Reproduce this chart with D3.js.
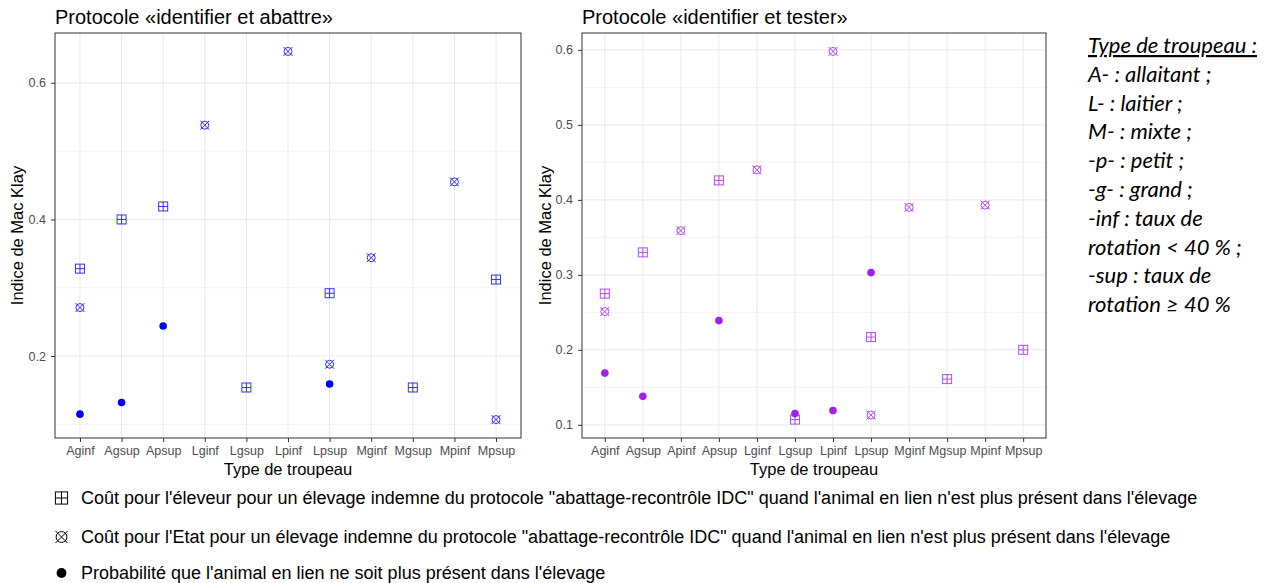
<!DOCTYPE html>
<html>
<head>
<meta charset="utf-8">
<script src="https://cdn.jsdelivr.net/npm/d3@7"></script>
<style>
	body { margin: 0; background: #fff; }
	text { font-family: "Liberation Sans", Arial, sans-serif; }
	.grid line { stroke: #ebebeb; }
</style>
</head>
<body>
<svg id="chart" width="1279" height="583"></svg>
<script>
// categories of each panel (the left one has no Apinf)
var cats_abattre = ["Aginf","Agsup","Apsup","Lginf","Lgsup","Lpinf","Lpsup","Mginf","Mgsup","Mpinf","Mpsup"];
var cats_tester = ["Aginf","Agsup","Apinf","Apsup","Lginf","Lgsup","Lpinf","Lpsup","Mginf","Mgsup","Mpinf","Mpsup"];

// "identifier et abattre"
var eleveur_abattre = [0.328, 0.400, 0.419, null, 0.154, null, 0.292, null, 0.154, null, 0.312];
var etat_abattre    = [0.271, null, null, 0.538, null, 0.646, 0.188, 0.344, null, 0.455, 0.107];
var proba_abattre   = [0.115, 0.132, 0.244, null, null, null, 0.159, null, null, null, null];

// "identifier et tester"
var eleveur_tester = [0.275, 0.330, null, 0.426, null, 0.107, null, 0.217, null, 0.161, null, 0.200];
var etat_tester    = [0.251, null, 0.359, null, 0.440, null, 0.598, 0.113, 0.390, null, 0.393, null];
var proba_tester   = [0.169, 0.138, null, 0.239, null, 0.115, 0.119, 0.303, null, null, null, null];

var ticks_abattre = [0.2, 0.4, 0.6];
var minor_abattre = [0.1, 0.3, 0.5];
var ticks_tester = [0.1, 0.2, 0.3, 0.4, 0.5, 0.6];
var minor_tester = [0.15, 0.25, 0.35, 0.45, 0.55];

var legend_labels = [
	"Coût pour l'éleveur pour un élevage indemne du protocole \"abattage-recontrôle IDC\" quand l'animal en lien n'est plus présent dans l'élevage",
	"Coût pour l'Etat pour un élevage indemne du protocole \"abattage-recontrôle IDC\" quand l'animal en lien n'est plus présent dans l'élevage",
	"Probabilité que l'animal en lien ne soit plus présent dans l'élevage"
];
var note_lines = ["Type de troupeau :","A- : allaitant ;","L- : laitier ;","M- : mixte ;","-p- : petit ;",
	"-g- : grand ;","-inf : taux de","rotation < 40 % ;","-sup : taux de","rotation ≥ 40 %"];

var svg = d3.select("#chart");

// marker shapes (ggplot shapes 12, 13, 16), k = size factor
function square_plus(g, color, k){
	k = k || 1;
	var h = 4.5 * k;
	g.append("rect").attr("x",-h).attr("y",-h).attr("width",2 * h).attr("height",2 * h)
		.attr("fill","none").attr("stroke",color);
	g.append("path").attr("d","M" + (-h) + ",0H" + h + "M0," + (-h) + "V" + h).attr("stroke",color);
}
function circle_cross(g, color, k){
	k = k || 1;
	var h = 4.5 * k;
	g.append("circle").attr("r",4 * k).attr("fill","none").attr("stroke",color);
	g.append("path").attr("d","M" + (-h) + "," + (-h) + "L" + h + "," + h + "M" + (-h) + "," + h + "L" + h + "," + (-h))
		.attr("stroke",color);
}
function dot(g, color, k){
	k = k || 1;
	g.append("circle").attr("r",3.8 * k).attr("fill",color);
}

function draw_panel(opts){
	var x = d3.scalePoint().domain(opts.cats).range([opts.left, opts.right]).padding(0.6);
	var all = opts.series.flatMap(function(s){ return s.values; }).filter(function(v){ return v != null; });
	var lo = d3.min(all), hi = d3.max(all), pad = (hi - lo) * 0.05;
	var y = d3.scaleLinear().domain([lo - pad, hi + pad]).range([opts.bottom, opts.top]);

	var grid = svg.append("g").attr("class","grid");
	grid.selectAll(".minor").data(opts.minor).enter().append("line")
		.attr("x1",opts.left).attr("x2",opts.right)
		.attr("y1",function(d){ return y(d); }).attr("y2",function(d){ return y(d); })
		.attr("stroke-width",0.6);
	grid.selectAll(".major").data(opts.ticks).enter().append("line")
		.attr("x1",opts.left).attr("x2",opts.right)
		.attr("y1",function(d){ return y(d); }).attr("y2",function(d){ return y(d); })
		.attr("stroke-width",1.1);
	grid.selectAll(".vx").data(opts.cats).enter().append("line")
		.attr("y1",opts.top).attr("y2",opts.bottom)
		.attr("x1",function(d){ return x(d); }).attr("x2",function(d){ return x(d); })
		.attr("stroke-width",1.1);

	opts.series.forEach(function(s){
		opts.cats.forEach(function(c, i){
			var v = s.values[i];
			if (v == null) return;
			var g = svg.append("g")
				.attr("transform","translate(" + x(c) + "," + y(v) + ")")
				.attr("opacity", s.shape === dot ? 1 : 0.8);
			s.shape(g, opts.color);
		});
	});

	svg.append("rect")
		.attr("x",opts.left).attr("y",opts.top)
		.attr("width",opts.right - opts.left).attr("height",opts.bottom - opts.top)
		.attr("fill","none").attr("stroke","#333333").attr("stroke-width",1);

	var ax = svg.append("g").attr("transform","translate(" + opts.left + ",0)")
		.call(d3.axisLeft(y).tickValues(opts.ticks).tickSize(4).tickPadding(5).tickFormat(d3.format(".1f")));
	ax.select(".domain").remove();
	ax.selectAll("line").attr("stroke","#333333");
	ax.selectAll("text").attr("fill","#4d4d4d").style("font-size","12.5px").style("font-family","Liberation Sans, Arial, sans-serif");

	var bx = svg.append("g").attr("transform","translate(0," + opts.bottom + ")")
		.call(d3.axisBottom(x).tickSize(4).tickPadding(4));
	bx.select(".domain").remove();
	bx.selectAll("line").attr("stroke","#333333");
	bx.selectAll("text").attr("fill","#4d4d4d").style("font-size","12.5px").style("font-family","Liberation Sans, Arial, sans-serif");

	svg.append("text").attr("x",opts.left).attr("y",24)
		.style("font-size","20px").attr("fill","#000").text(opts.title);
	svg.append("text").attr("x",(opts.left + opts.right) / 2).attr("y",475)
		.attr("text-anchor","middle").style("font-size","16.5px").text("Type de troupeau");
	svg.append("text")
		.attr("transform","translate(" + opts.ylab_x + "," + ((opts.top + opts.bottom) / 2) + ") rotate(-90)")
		.attr("text-anchor","middle").style("font-size","16.5px").text("Indice de Mac Klay");
}

draw_panel({
	title: "Protocole «identifier et abattre»",
	cats: cats_abattre, left: 55, right: 521, top: 33, bottom: 438, ylab_x: 23,
	ticks: ticks_abattre, minor: minor_abattre, color: "#0000ff",
	series: [
		{values: eleveur_abattre, shape: square_plus},
		{values: etat_abattre, shape: circle_cross},
		{values: proba_abattre, shape: dot}
	]
});

draw_panel({
	title: "Protocole «identifier et tester»",
	cats: cats_tester, left: 582, right: 1046, top: 33, bottom: 438, ylab_x: 551,
	ticks: ticks_tester, minor: minor_tester, color: "#a020f0",
	series: [
		{values: eleveur_tester, shape: square_plus},
		{values: etat_tester, shape: circle_cross},
		{values: proba_tester, shape: dot}
	]
});

// legend under the panels
var legend_shapes = [square_plus, circle_cross, dot];
var legend_y = [498, 537, 573];
legend_labels.forEach(function(lab, i){
	var g = svg.append("g").attr("transform","translate(61.5," + legend_y[i] + ")");
	legend_shapes[i](g, "#000", i === 2 ? 1.3 : 1.35);
	svg.append("text").attr("x",81).attr("y",legend_y[i] + 6)
		.style("font-size","18px").text(lab);
});

// side note on the right
svg.append("g").selectAll("text").data(note_lines).enter().append("text")
	.attr("x",1088).attr("y",function(d, i){ return 53 + i * 28.8; })
	.style("font-family","Lato, 'Open Sans', sans-serif").style("font-style","italic")
	.style("font-size","22px")
	.style("text-decoration",function(d, i){ return i === 0 ? "underline" : null; })
	.text(function(d){ return d; });
</script>
</body>
</html>
